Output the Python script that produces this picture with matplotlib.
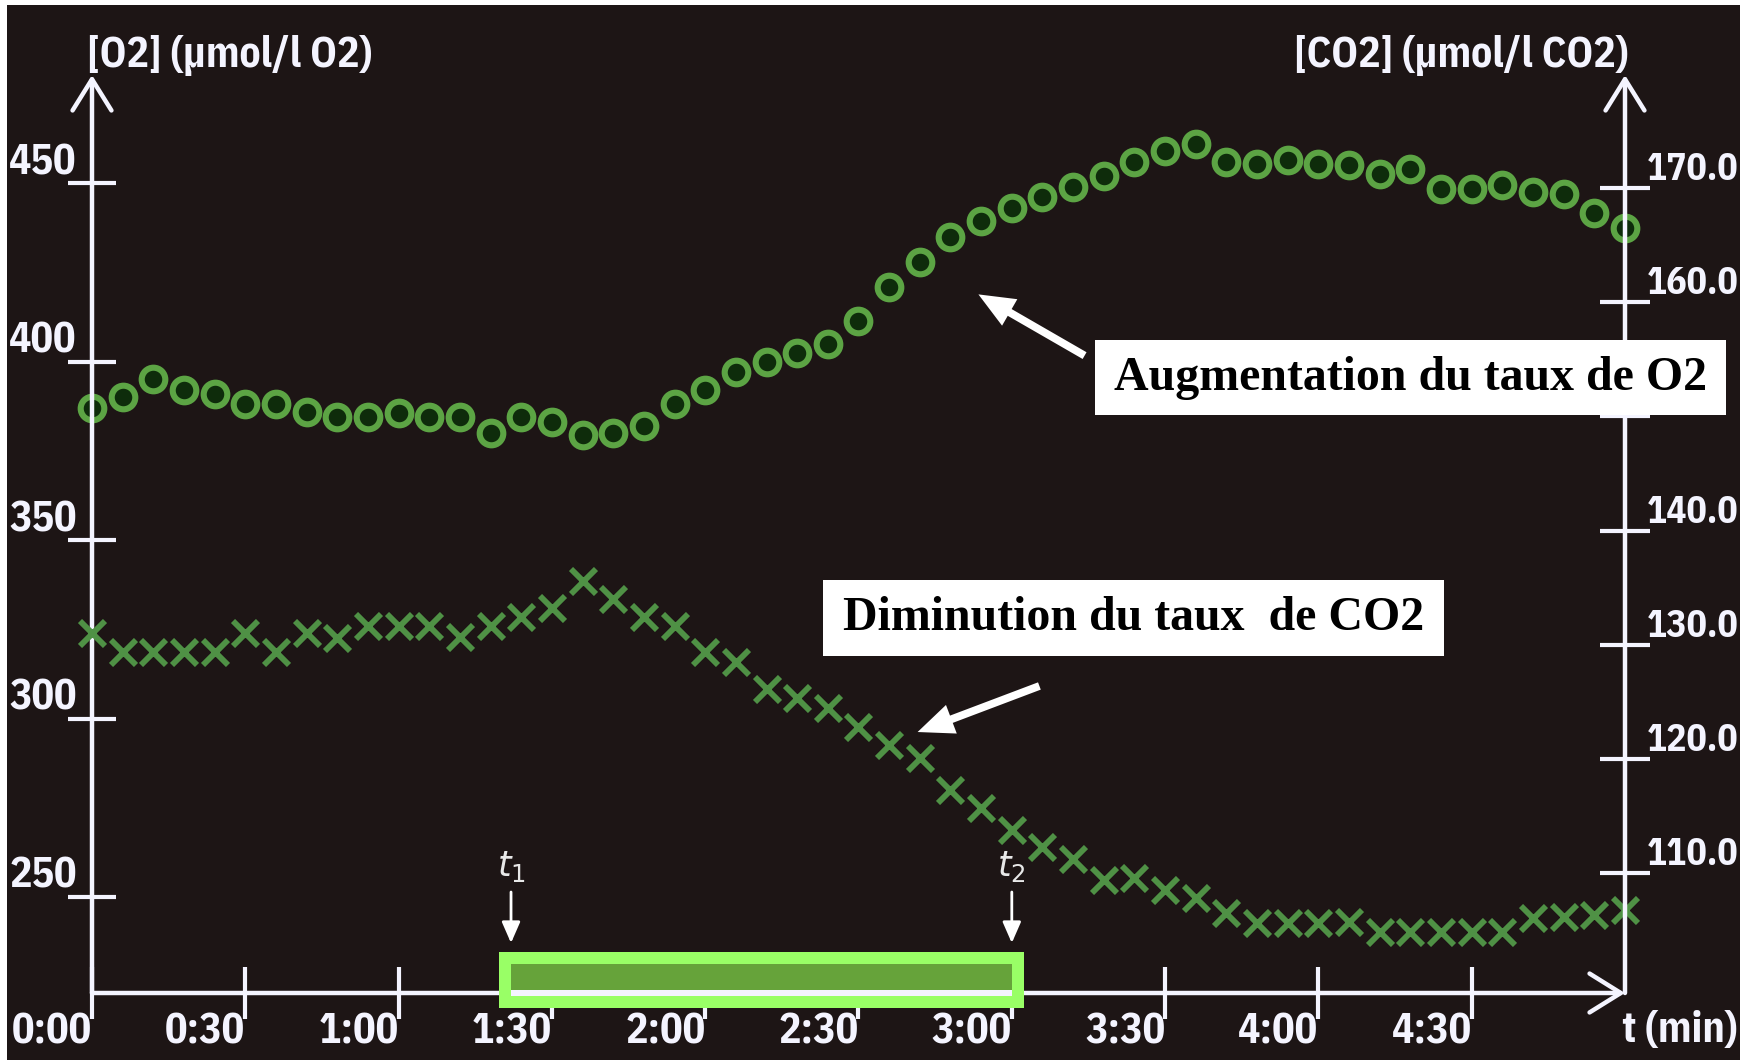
import matplotlib
matplotlib.use("Agg")
import matplotlib.pyplot as plt
from matplotlib.patches import Rectangle, FancyArrowPatch
from matplotlib.transforms import blended_transform_factory

# ---------------- data ----------------
time_s = [0, 6, 12, 18, 24, 30, 36, 42, 48, 54,
          60, 66, 72, 78, 84, 90, 96, 102, 108, 114,
          120, 126, 132, 138, 144, 150, 156, 162, 168, 174,
          180, 186, 192, 198, 204, 210, 216, 222, 228, 234,
          240, 246, 252, 258, 264, 270, 276, 282, 288, 294, 300]

o2_umol = [387, 390, 395, 392, 391, 388, 388, 386, 384.5, 384.5,
           385.5, 384.5, 384.5, 380, 384.5, 383, 379.5, 380, 382, 388,
           392, 397, 400, 402.5, 405, 411.5, 421, 428, 435, 439.5,
           443, 446, 449, 452, 456, 459, 461, 456, 455.5, 456.5,
           455.5, 455, 452.5, 454, 448.5, 448.5, 449.5, 447.5, 447, 441.5, 437.5]

co2_umol = [131, 129.4, 129.4, 129.4, 129.4, 131, 129.4, 131, 130.6, 131.6,
            131.6, 131.6, 130.7, 131.6, 132.4, 133.2, 135.6, 134, 132.4, 131.6,
            129.4, 128.5, 126.1, 125.3, 124.5, 122.8, 121.2, 120.1, 117.3, 115.7,
            113.8, 112.3, 111.2, 109.4, 109.6, 108.5, 107.8, 106.5, 105.6, 105.6,
            105.6, 105.7, 104.8, 104.8, 104.8, 104.8, 104.8, 106.1, 106.2, 106.3, 106.8]

x_tick_s = [0, 30, 60, 90, 120, 150, 180, 210, 240, 270]
x_tick_labels = ["0:00", "0:30", "1:00", "1:30", "2:00", "2:30",
                 "3:00", "3:30", "4:00", "4:30"]
o2_ticks = [250, 300, 350, 400, 450]
o2_tick_labels = ["250", "300", "350", "400", "450"]
co2_ticks = [110, 120, 130, 140, 150, 160, 170]
# the 150.0 label is hidden behind the annotation box in the original
co2_tick_labels = ["110.0", "120.0", "130.0", "140.0", "", "160.0", "170.0"]
t_light_on = 82     # t1 (s)
t_light_off = 180   # t2 (s)

o2_title = "[O2] (\u00b5mol/l O2)"
co2_title = "[CO2] (\u00b5mol/l CO2)"
x_title = "t (min)"
note_o2 = "Augmentation du taux de O2"
note_co2 = "Diminution du taux  de CO2"

# ---------------- style ----------------
BG = "#1d1515"
FG = "#f4f4ff"
RING = "#5ca444"
RING_FILL = "#0e2c0b"
CROSS = "#4f9145"
BORDER_GREEN = "#99ff66"
BAR_GREEN = "#66a33a"
LBL = 30

plt.rcParams["font.family"] = ["IBM Plex Sans Condensed", "DejaVu Sans"]
plt.rcParams["font.weight"] = "bold"
plt.rcParams["mathtext.fontset"] = "custom"
plt.rcParams["mathtext.it"] = "DejaVu Sans:style=italic:weight=normal"
plt.rcParams["mathtext.rm"] = "DejaVu Sans:weight=normal"

W, H = 1748, 1060
fig = plt.figure(figsize=(W / 100, H / 100), dpi=100, facecolor="white")


def fx(px):
    return px / W


def fy(py):
    return 1 - py / H


# dark screen panel
fig.patches.append(Rectangle((fx(7), 0), fx(1740) - fx(7), fy(5),
                             transform=fig.transFigure, facecolor=BG,
                             edgecolor="none", zorder=-10))

AX_L, AX_R, AX_B, AX_T = 92, 1625, 993, 75
ax = fig.add_axes([fx(AX_L), fy(AX_B), (AX_R - AX_L) / W, (AX_B - AX_T) / H])
ax.patch.set_visible(False)
ax.set_xlim(0, 300)
ax.set_ylim(223.1, 480.3)
ax2 = ax.twinx()
ax2.patch.set_visible(False)
ax2.set_ylim(99.5, 179.9)
for a in (ax, ax2):
    for s in a.spines.values():
        s.set_visible(False)

# data
ax.plot(time_s, o2_umol, linestyle="none", marker="o", markersize=17,
        markerfacecolor=RING_FILL, markeredgecolor=RING, markeredgewidth=4.4,
        clip_on=False, zorder=3)
ax2.plot(time_s, co2_umol, linestyle="none", marker="x", markersize=18,
         markeredgecolor=CROSS, markeredgewidth=4.2, clip_on=False, zorder=3)

# ticks
ax.set_xticks(x_tick_s, x_tick_labels, ha="right")
ax.tick_params(axis="x", direction="inout", length=38, width=3, colors=FG,
               pad=-6, labelsize=LBL)
ax.set_yticks(o2_ticks, o2_tick_labels, va="bottom")
ax.tick_params(axis="y", direction="inout", length=34, width=3, colors=FG,
               pad=-6, labelsize=LBL)
ax2.set_yticks(co2_ticks, co2_tick_labels, va="bottom")
ax2.tick_params(axis="y", direction="inout", length=36, width=3, colors=FG,
                pad=-2, labelsize=27)

# axis lines with open arrow heads
axis_arrow = dict(arrowstyle="->,head_length=0.45,head_width=0.28", lw=3.2,
                  color=FG, mutation_scale=50, shrinkA=0, shrinkB=0)
ax.annotate("", xy=(0, 1), xytext=(0, 0), xycoords="axes fraction",
            arrowprops=axis_arrow, annotation_clip=False)
ax.annotate("", xy=(1, 0), xytext=(0, 0), xycoords="axes fraction",
            arrowprops=axis_arrow, annotation_clip=False)
ax2.annotate("", xy=(1, 1), xytext=(1, 0), xycoords="axes fraction",
             arrowprops=axis_arrow, annotation_clip=False)

# axis titles
fig.text(fx(87), fy(56), o2_title, ha="left", va="center", color=FG, fontsize=LBL)
fig.text(fx(1628), fy(56), co2_title, ha="right", va="center", color=FG, fontsize=LBL)
fig.text(fx(1622), fy(1031), x_title, ha="left", va="center", color=FG, fontsize=LBL)

# illumination bar between t1 and t2
px_per_s = (AX_R - AX_L) / 300
border = 12 / px_per_s
tr = blended_transform_factory(ax2.transData, fig.transFigure)
ax2.add_patch(Rectangle((t_light_on - border, fy(1008)),
                        t_light_off - t_light_on + 2 * border, fy(952) - fy(1008),
                        transform=tr, facecolor=BORDER_GREEN, edgecolor="none",
                        clip_on=False, zorder=6))
ax2.add_patch(Rectangle((t_light_on, fy(990)), t_light_off - t_light_on,
                        fy(964) - fy(990), transform=tr, facecolor=BAR_GREEN,
                        edgecolor="none", clip_on=False, zorder=7))
ax2.add_patch(Rectangle((t_light_on, fy(996)), t_light_off - t_light_on,
                        fy(990) - fy(996), transform=tr, facecolor=FG,
                        edgecolor="none", clip_on=False, zorder=7))

# t1 / t2 markers
small_arrow = dict(arrowstyle="-|>,head_length=0.8,head_width=0.35", lw=2,
                   color="white", mutation_scale=16, shrinkA=0, shrinkB=0)
for t, lab in ((t_light_on, r"$t_1$"), (t_light_off, r"$t_2$")):
    ax2.annotate("", xy=(t, fy(943)), xytext=(t, fy(892)),
                 xycoords=("data", "figure fraction"),
                 textcoords=("data", "figure fraction"),
                 arrowprops=small_arrow, annotation_clip=False)
    ax2.annotate(lab, xy=(t, fy(866)), xycoords=("data", "figure fraction"),
                 ha="center", va="center", fontsize=25, color="#e8e8e8",
                 annotation_clip=False)

# white annotation boxes with arrows
def note(x0, y0, x1, y1, text):
    fig.patches.append(Rectangle((fx(x0), fy(y1)), fx(x1) - fx(x0), fy(y0) - fy(y1),
                                 transform=fig.transFigure, facecolor="white",
                                 edgecolor="none", zorder=5))
    fig.text(fx((x0 + x1) / 2), fy((y0 + y1) / 2), text, ha="center", va="center",
             family="Liberation Serif", weight="bold", fontsize=34.5,
             color="black", zorder=6)


note(1095, 340, 1726, 415, note_o2)
note(823, 580, 1444, 656, note_co2)

for (x0, y0), (x1, y1) in (((1087, 357), (976, 293)), ((1042, 685), (915, 733))):
    fig.patches.append(FancyArrowPatch(
        (fx(x0), fy(y0)), (fx(x1), fy(y1)), transform=fig.transFigure,
        arrowstyle="simple,head_length=1.3,head_width=1.1,tail_width=0.28",
        mutation_scale=20, facecolor="white", edgecolor="none", zorder=6))

fig.savefig("out.png", dpi=100, facecolor="white")
